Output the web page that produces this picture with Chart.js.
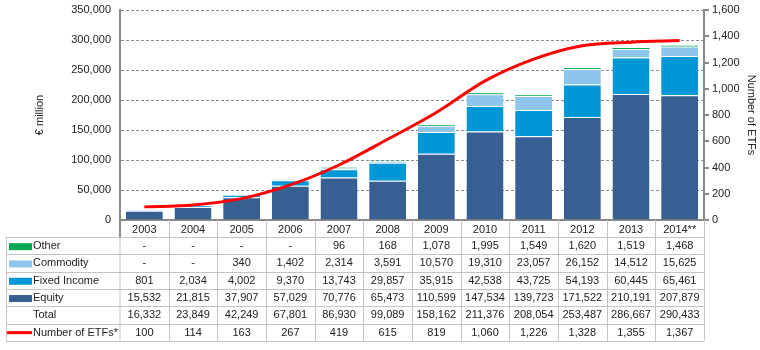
<!DOCTYPE html>
<html>
<head>
<meta charset="utf-8">
<script src="https://cdn.jsdelivr.net/npm/chart.js@4.4.0/dist/chart.umd.min.js"></script>
<style>
html,body{margin:0;padding:0;background:#fff;}
#wrap{width:760px;height:350px;}
</style>
</head>
<body>
<div id="wrap"><canvas id="c" width="760" height="350"></canvas></div>
<script>
// ---- data ----
const years = ["2003","2004","2005","2006","2007","2008","2009","2010","2011","2012","2013","2014**"];
const other = [null,null,null,null,96,168,1078,1995,1549,1620,1519,1468];
const commodity = [null,null,340,1402,2314,3591,10570,19310,23057,26152,14512,15625];
const fixedIncome = [801,2034,4002,9370,13743,29857,35915,42538,43725,54193,60445,65461];
const equity = [15532,21815,37907,57029,70776,65473,110599,147534,139723,171522,210191,207879];
const total = [16332,23849,42249,67801,86930,99089,158162,211376,208054,253487,286667,290433];
const numberOfEtfs = [100,114,163,267,419,615,819,1060,1226,1328,1355,1367];
const leftTicks = [0,50000,100000,150000,200000,250000,300000,350000];
const rightTicks = [0,200,400,600,800,1000,1200,1400,1600];

const COL = {equity:'#375f91', fixed:'#0097d7', commodity:'#8ec5ec', other:'#00a651', line:'#ff0000'};
const FONT = '"Liberation Sans", Arial, sans-serif';

function fmt(v){
  if (v === null || v === undefined) return '-';
  return String(v).replace(/\B(?=(\d{3})+(?!\d))/g, ',');
}

const tableRows = [
  {label:'Other', values: other, swatch:'rect', color: COL.other},
  {label:'Commodity', values: commodity, swatch:'rect', color: COL.commodity},
  {label:'Fixed Income', values: fixedIncome, swatch:'rect', color: COL.fixed},
  {label:'Equity', values: equity, swatch:'rect', color: COL.equity},
  {label:'Total', values: total, swatch:null},
  {label:'Number of ETFs*', values: numberOfEtfs, swatch:'line', color: COL.line}
];

const tablePlugin = {
  id:'dataTable',
  afterDraw(chart){
    const ctx = chart.ctx;
    const xs = chart.scales.x;
    const ca = chart.chartArea;
    const n = years.length;
    const colW = (xs.right - xs.left) / n;
    const top = ca.bottom;
    const headBottom = top + 17;
    const rowH = 17.3;
    const tableLeft = 6;
    const tableBottom = headBottom + rowH * tableRows.length;
    ctx.save();
    ctx.strokeStyle = '#c4c4c4';
    ctx.lineWidth = 1;
    for (let k = 0; k <= tableRows.length; k++){
      const y = Math.round(headBottom + k*rowH) + 0.5;
      ctx.beginPath(); ctx.moveTo(tableLeft, y); ctx.lineTo(xs.right, y); ctx.stroke();
    }
    for (let i = 1; i <= n; i++){
      const x = Math.round(xs.left + i*colW) + 0.5;
      ctx.beginPath(); ctx.moveTo(x, top); ctx.lineTo(x, tableBottom); ctx.stroke();
    }
    ctx.beginPath(); ctx.moveTo(tableLeft + 0.5, headBottom); ctx.lineTo(tableLeft + 0.5, tableBottom); ctx.stroke();
    ctx.beginPath(); ctx.moveTo(xs.left, headBottom); ctx.lineTo(xs.left, tableBottom); ctx.stroke();
    ctx.strokeStyle = '#888'; ctx.lineWidth = 2;
    ctx.beginPath(); ctx.moveTo(xs.left, top); ctx.lineTo(xs.left, headBottom); ctx.stroke();
    ctx.font = '11px ' + FONT;
    ctx.textBaseline = 'middle';
    tableRows.forEach((r, k) => {
      const cy = headBottom + k*rowH + rowH/2 + 0.5;
      if (r.swatch === 'rect'){
        ctx.fillStyle = r.color;
        ctx.fillRect(9, cy - 3, 23, 7);
      } else if (r.swatch === 'line'){
        ctx.strokeStyle = r.color; ctx.lineWidth = 3;
        ctx.beginPath(); ctx.moveTo(7, cy); ctx.lineTo(32, cy); ctx.stroke();
      }
      ctx.fillStyle = '#222';
      ctx.textAlign = 'left';
      ctx.fillText(r.label, 33, cy);
      ctx.textAlign = 'center';
      for (let i = 0; i < n; i++){
        ctx.fillText(fmt(r.values[i]), xs.getPixelForValue(i), cy);
      }
    });
    ctx.restore();
  }
};

const barBorder = {top: 1, right: 0, bottom: 0, left: 0};

new Chart(document.getElementById('c'), {
  data: {
    labels: years,
    datasets: [
      {type:'line', label:'Number of ETFs*', data: numberOfEtfs, yAxisID:'y1', borderColor: COL.line, backgroundColor: COL.line, borderWidth: 3, pointRadius: 0, cubicInterpolationMode:'monotone', order: 0},
      {type:'bar', label:'Equity', data: equity, yAxisID:'y', backgroundColor: COL.equity, borderColor:'rgba(255,255,255,0.45)', borderWidth: barBorder, order: 1},
      {type:'bar', label:'Fixed Income', data: fixedIncome, yAxisID:'y', backgroundColor: COL.fixed, borderColor:'rgba(255,255,255,0.45)', borderWidth: barBorder, order: 1},
      {type:'bar', label:'Commodity', data: commodity, yAxisID:'y', backgroundColor: COL.commodity, borderColor:'rgba(255,255,255,0.45)', borderWidth: barBorder, order: 1},
      {type:'bar', label:'Other', data: other, yAxisID:'y', backgroundColor: COL.other, order: 1}
    ]
  },
  options: {
    responsive: false,
    animation: false,
    devicePixelRatio: 1,
    layout: {padding: {top: 10, left: 0, right: 0, bottom: 0}},
    datasets: {bar: {barPercentage: 0.76, categoryPercentage: 1.0}},
    plugins: {legend: {display: false}, tooltip: {enabled: false}},
    scales: {
      x: {
        stacked: true,
        grid: {display: false, drawTicks: false},
        border: {display: true, color: '#888', width: 2},
        ticks: {font: {family: FONT, size: 11}, color: '#222', padding: 3, maxRotation: 0, autoSkip: false},
        afterFit(s){ s.height = 130; s.paddingLeft = 0; s.paddingRight = 0; }
      },
      y: {
        position: 'left',
        stacked: true,
        min: 0, max: 350000,
        afterBuildTicks(s){ s.ticks = leftTicks.map(v => ({value: v})); },
        grid: {color: '#8a8a8a', lineWidth: 1, drawTicks: false},
        border: {display: true, color: '#888', width: 2, dash: [3, 2]},
        ticks: {font: {family: FONT, size: 11}, color: '#222', padding: 9, callback: v => fmt(v)},
        title: {display: true, text: '€ million', font: {family: FONT, size: 11}, color: '#222', padding: {top: 33, bottom: 0}},
        afterFit(s){ s.width = 120; s.paddingTop = 0; s.paddingBottom = 0; }
      },
      y1: {
        position: 'right',
        min: 0, max: 1600,
        afterBuildTicks(s){ s.ticks = rightTicks.map(v => ({value: v})); },
        grid: {drawOnChartArea: false, drawTicks: true, tickLength: 5, color: '#888', lineWidth: 2},
        border: {display: true, color: '#888', width: 2},
        ticks: {font: {family: FONT, size: 11}, color: '#222', padding: 3, callback: v => fmt(v)},
        title: {display: true, text: 'Number of ETFs', font: {family: FONT, size: 11}, color: '#222', padding: {top: 2, bottom: 0}},
        afterFit(s){ s.width = 56; s.paddingTop = 0; s.paddingBottom = 0; }
      }
    }
  },
  plugins: [tablePlugin]
});
</script>
</body>
</html>
